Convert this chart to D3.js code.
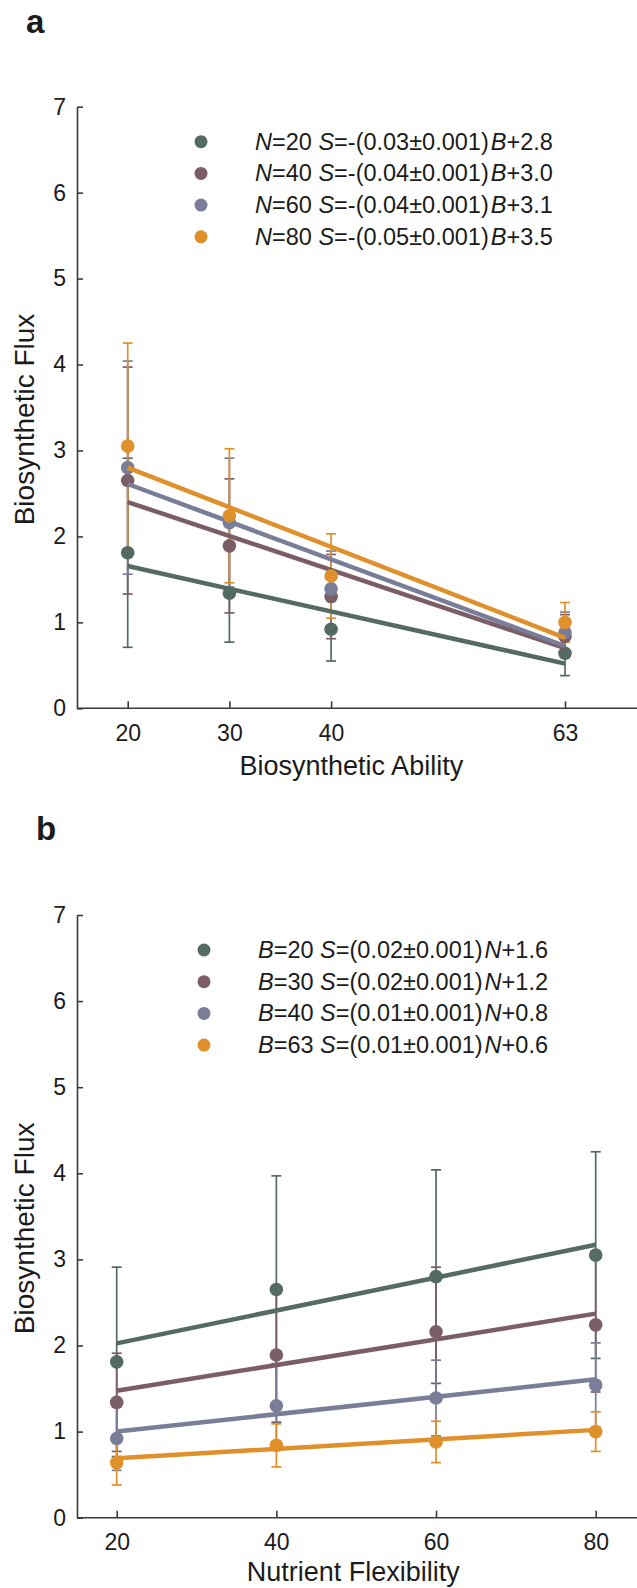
<!DOCTYPE html>
<html>
<head>
<meta charset="utf-8">
<script src="https://d3js.org/d3.v7.min.js"></script>
<style>
  body { margin: 0; background: #fff; }
  svg text { font-family: "Liberation Sans", Arial, sans-serif; fill: #1b1b1b; }
  .eixo line, .eixo path { stroke: #3a3a3a; stroke-width: 1.6; }
</style>
</head>
<body>
<svg id="fig" width="637" height="1588"></svg>
<script>
"use strict"

// niveis dos dois fatores
var nivelN = [20, 40, 60, 80];
var nivelB = [20, 30, 40, 63];

// fluxo medio: linha = N, coluna = B
var fluxo = [
  [1.81, 1.34, 0.92, 0.64],
  [2.65, 1.89, 1.30, 0.84],
  [2.80, 2.16, 1.39, 0.88],
  [3.05, 2.24, 1.54, 1.00]
];
// desvio (barra de erro)
var desvio = [
  [1.10, 0.57, 0.37, 0.26],
  [1.32, 0.78, 0.49, 0.25],
  [1.24, 0.75, 0.44, 0.24],
  [1.20, 0.78, 0.49, 0.23]
];

// retas ajustadas: valor no primeiro e no ultimo ponto do eixo x
var retaA = [[1.655, 0.52], [2.40, 0.70], [2.61, 0.725], [2.80, 0.82]];
var retaB = [[2.025, 3.17], [1.475, 2.37], [1.00, 1.607], [0.69, 1.02]];

// textos da legenda
var inclinacaoA = ["=-(0.03\u00b10.001)", "=-(0.04\u00b10.001)", "=-(0.04\u00b10.001)", "=-(0.05\u00b10.001)"];
var interceptoA = ["+2.8", "+3.0", "+3.1", "+3.5"];
var inclinacaoB = ["=(0.02\u00b10.001)", "=(0.02\u00b10.001)", "=(0.01\u00b10.001)", "=(0.01\u00b10.001)"];
var interceptoB = ["+1.6", "+1.2", "+0.8", "+0.6"];

var cores = ["#546b61", "#7b5d66", "#797d97", "#e0902b"];

var svg = d3.select("#fig");

function painel(p) {
  var x = d3.scaleLinear().domain(p.xDom).range(p.xRange);
  var y = d3.scaleLinear().domain([0, 7]).range(p.yRange);
  var g = svg.append("g");

  // letra do painel
  g.append("text").attr("x", p.letra[1]).attr("y", p.letra[2])
    .style("font-size", "33px").style("font-weight", "bold").text(p.letra[0]);

  // eixo y
  var ey = g.append("g").attr("class", "eixo")
    .attr("transform", "translate(77,0)")
    .call(d3.axisLeft(y).ticks(7).tickSizeInner(-6).tickSizeOuter(0).tickPadding(11));
  ey.selectAll("text").style("font-size", "23px");

  // eixo x
  var ex = g.append("g").attr("class", "eixo")
    .attr("transform", "translate(0," + y(0) + ")")
    .call(d3.axisBottom(x).tickValues(p.xTicks).tickSizeInner(-7).tickSizeOuter(0).tickPadding(16));
  ex.select(".domain").remove();
  ex.selectAll("text").style("font-size", "23px");
  g.append("line").attr("x1", 77).attr("x2", 637).attr("y1", y(0)).attr("y2", y(0))
    .attr("stroke", "#3a3a3a").attr("stroke-width", 1.6);

  // titulos dos eixos
  g.append("text").attr("x", (p.xRange[0] + p.xRange[1]) / 2 + p.dxTitulo).attr("y", y(0) + p.dyTitulo)
    .attr("text-anchor", "middle").style("font-size", "27px").text(p.tituloX);
  g.append("text")
    .attr("transform", "translate(34," + (y(3.5) + 12) + ") rotate(-90)")
    .attr("text-anchor", "middle").style("font-size", "28px").text("Biosynthetic Flux");

  // barras de erro
  p.series.forEach(function(s, k) {
    var gb = g.append("g").attr("stroke", cores[k]).attr("stroke-width", 1.7);
    s.forEach(function(d) {
      gb.append("line").attr("x1", x(d.x)).attr("x2", x(d.x)).attr("y1", y(d.v - d.e)).attr("y2", y(d.v + d.e));
      gb.append("line").attr("x1", x(d.x) - 5).attr("x2", x(d.x) + 5).attr("y1", y(d.v - d.e)).attr("y2", y(d.v - d.e));
      gb.append("line").attr("x1", x(d.x) - 5).attr("x2", x(d.x) + 5).attr("y1", y(d.v + d.e)).attr("y2", y(d.v + d.e));
    });
  });

  // pontos e retas
  p.series.forEach(function(s, k) {
    g.selectAll(null).data(s).enter().append("circle")
      .attr("cx", d => x(d.x)).attr("cy", d => y(d.v)).attr("r", 6.8)
      .attr("fill", cores[k]);
    g.append("line")
      .attr("x1", x(p.xDom[0])).attr("y1", y(p.retas[k][0]))
      .attr("x2", x(p.xDom[1])).attr("y2", y(p.retas[k][1]))
      .attr("stroke", cores[k]).attr("stroke-width", 4.5);
  });

  // legenda
  p.legenda.forEach(function(l, k) {
    var ly = p.legY + k * 31.7;
    g.append("circle").attr("cx", p.legX).attr("cy", ly).attr("r", 6.5).attr("fill", cores[k]);
    var t = g.append("text").attr("x", p.legX + 54).attr("y", ly + 8).style("font-size", "23.5px");
    t.append("tspan").style("font-style", "italic").text(l[0]);
    t.append("tspan").text("=" + l[1] + " ");
    t.append("tspan").style("font-style", "italic").text("S");
    t.append("tspan").text(l[2]);
    t.append("tspan").attr("dx", 2).style("font-style", "italic").text(l[3]);
    t.append("tspan").text(l[4]);
  });
}

// painel a: x = B, uma serie por N
painel({
  letra: ["a", 26, 33],
  xDom: [20, 63], xRange: [127.7, 565], yRange: [708.3, 106.7],
  xTicks: nivelB, tituloX: "Biosynthetic Ability", dxTitulo: 5, dyTitulo: 67,
  series: nivelN.map((n, i) => nivelB.map((b, j) => ({x: b, v: fluxo[i][j], e: desvio[i][j]}))),
  retas: retaA,
  legX: 201, legY: 141.7,
  legenda: nivelN.map((n, i) => ["N", n, inclinacaoA[i], "B", interceptoA[i]])
});

// painel b: x = N, uma serie por B
painel({
  letra: ["b", 36, 840],
  xDom: [20, 80], xRange: [116.7, 595.7], yRange: [1517.7, 915],
  xTicks: nivelN, tituloX: "Nutrient Flexibility", dxTitulo: -3, dyTitulo: 63,
  series: nivelB.map((b, j) => nivelN.map((n, i) => ({x: n, v: fluxo[i][j], e: desvio[i][j]}))),
  retas: retaB,
  legX: 204, legY: 950,
  legenda: nivelB.map((b, j) => ["B", b, inclinacaoB[j], "N", interceptoB[j]])
});
</script>
</body>
</html>
